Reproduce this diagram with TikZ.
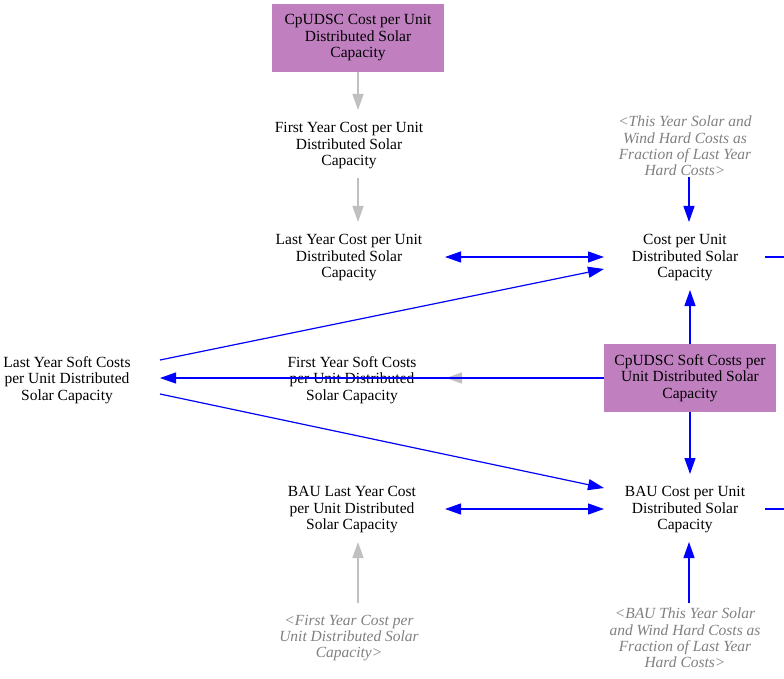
\documentclass[tikz,border=0pt]{standalone}
\usepackage{fontspec}
\setmainfont{Liberation Serif}
\usetikzlibrary{arrows.meta}

\definecolor{boxpurple}{HTML}{C080C0}
\definecolor{linkgray}{HTML}{C0C0C0}
\definecolor{ghostgray}{HTML}{808080}

\tikzset{
    var/.style={align=center, font=\fontsize{15.5}{16.5}\selectfont},
    ghost/.style={var, text=ghostgray, font=\fontsize{15.5}{16.3}\selectfont\itshape},
    const/.style={var, fill=boxpurple, minimum width=172pt, minimum height=68pt, inner sep=0pt},
    link/.style={draw=blue, line width=1.2pt, -{Triangle[length=16pt,width=11pt]}},
    both/.style={link, {Triangle[length=16pt,width=11pt]}-{Triangle[length=16pt,width=11pt]}},
    grey/.style={draw=linkgray, line width=1.5pt, -{Triangle[length=16pt,width=11pt]}}
}

\begin{document}
\begin{tikzpicture}[x=1pt, y=-1pt]
    \useasboundingbox (0,0) rectangle (784,679);

    \node[const] (cpcost) at (358,38) {CpUDSC Cost per Unit\\Distributed Solar\\Capacity};
    \node[var] (firstcost) at (349,146) {First Year Cost per Unit\\Distributed Solar\\Capacity};
    \node[var] (lastcost) at (349,258) {Last Year Cost per Unit\\Distributed Solar\\Capacity};
    \node[ghost] (hardghost) at (685,146) {<This Year Solar and\\Wind Hard Costs as\\Fraction of Last Year\\Hard Costs>};
    \node[var] (cost) at (685,258) {Cost per Unit\\Distributed Solar\\Capacity};

    \node[var] (lastsoft) at (67,380) {Last Year Soft Costs\\per Unit Distributed\\Solar Capacity};
    \node[var] (firstsoft) at (352,380) {First Year Soft Costs\\per Unit Distributed\\Solar Capacity};
    \node[const] (cpsoft) at (690,378) {CpUDSC Soft Costs per\\Unit Distributed Solar\\Capacity};

    \node[var] (baulast) at (352,510) {BAU Last Year Cost\\per Unit Distributed\\Solar Capacity};
    \node[var] (baucost) at (685,510) {BAU Cost per Unit\\Distributed Solar\\Capacity};
    \node[ghost] (firstghost) at (349,638) {<First Year Cost per\\Unit Distributed Solar\\Capacity>};
    \node[ghost] (bauhardghost) at (685,638) {<BAU This Year Solar\\and Wind Hard Costs as\\Fraction of Last Year\\Hard Costs>};

    \coordinate (costout) at (784,257);
    \coordinate (bauout) at (784,509);

    % top column
    \draw[grey] (cpcost.south -| 358,0) -- (358,110);
    \draw[grey] (358,178) -- (358,222);
    \draw[both] (445,257) -- (604,257);
    \draw[link] (689,177) -- (689,222);
    \draw[link] (cpsoft.north) -- (690,290);
    \draw[blue, line width=1.2pt] (765,257) -- (costout);

    % soft costs row
    \draw[grey] (cpsoft.west) -- (446,378);
    \draw[link] (cpsoft.west) -- (160,378);
    \draw[link] (160,360) -- (604,269);
    \draw[link] (160,394) -- (604,488);
    \draw[link] (cpsoft.south) -- (690,474);

    % bau row
    \draw[both] (445,509) -- (604,509);
    \draw[grey] (358,603) -- (358,542);
    \draw[link] (689,603) -- (689,542);
    \draw[blue, line width=1.2pt] (765,509) -- (bauout);
\end{tikzpicture}
\end{document}
